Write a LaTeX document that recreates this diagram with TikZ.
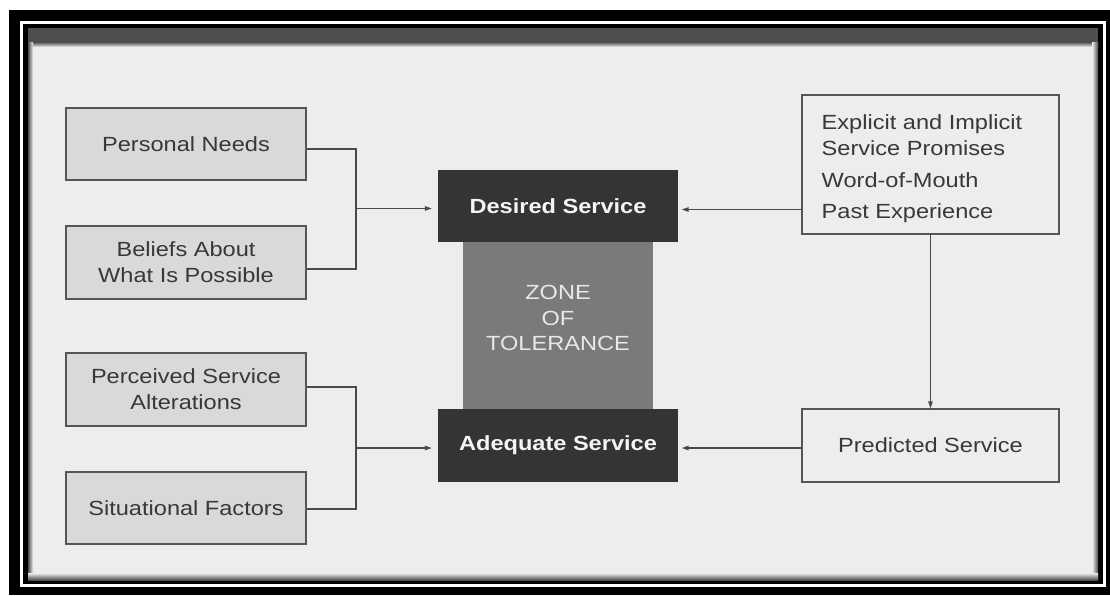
\documentclass[tikz,border=0pt]{standalone}
\usepackage{fontspec}
\newfontfamily\dfont[FakeStretch=1.15]{Liberation Sans}
\usetikzlibrary{arrows.meta}
\definecolor{bggray}{HTML}{EDEDED}
\definecolor{stripc}{HTML}{4E4E4E}
\definecolor{lboxfill}{HTML}{D9D9D9}
\definecolor{boxline}{HTML}{555555}
\definecolor{ltext}{HTML}{383838}
\definecolor{darkbox}{HTML}{343434}
\definecolor{zonefill}{HTML}{7A7A7A}
\definecolor{connc}{HTML}{4A4A4A}
\definecolor{wtext}{HTML}{F4F4F4}
\definecolor{ztext}{HTML}{E8E8E8}
\begin{document}
\begin{tikzpicture}[x=1pt,y=-1pt,
  txt/.style={font=\dfont\fontsize{20.5}{25.7}\selectfont, align=center},
  lbox/.style={txt, draw=boxline, fill=lboxfill, line width=1.2pt, minimum width=240pt, inner sep=0pt, text=ltext},
  rbox/.style={txt, draw=boxline, fill=bggray, line width=1.2pt, minimum width=257pt, inner sep=0pt, text=ltext},
  dbox/.style={txt, fill=darkbox, minimum width=240pt, minimum height=72pt, inner sep=0pt, text=wtext, font=\dfont\bfseries\fontsize{20.5}{25.7}\selectfont},
  conn/.style={draw=connc, line width=1.2pt},
  arr/.style={conn, -{Triangle[length=7pt,width=4.5pt]}}]
\useasboundingbox (0,0) rectangle (1110,595);
% frame
\fill[white] (0,0) rectangle (1110,595);
\fill[black] (9,10) rectangle (1110,595);
\fill[white] (20,21) rectangle (1106,587);
\fill[black] (23,24) rectangle (1103,584);
\fill[bggray] (28,28) rectangle (1098,580);
\fill[stripc] (28,28) rectangle (1098,42);
\shade[top color=stripc, bottom color=bggray] (28,42) rectangle (1098,47);
\shade[left color=stripc, right color=bggray] (28,42) rectangle (33,580);
\shade[left color=bggray, right color=stripc] (1092,42) rectangle (1098,580);
\shade[top color=bggray, bottom color=stripc] (28,573) rectangle (1098,580);
% left boxes
\node[lbox, minimum height=72pt] (pn) at (186,144) {Personal Needs};
\node[lbox, minimum height=73pt] (bel) at (186,262.5) {Beliefs About\\What Is Possible};
\node[lbox, minimum height=73pt] (psa) at (186,389.5) {Perceived Service\\Alterations};
\node[lbox, minimum height=72pt] (sf) at (186,508) {Situational Factors};
% centre
\node[fill=zonefill, minimum width=190pt, minimum height=167pt, inner sep=0pt] (zone) at (558,325.5) {};
\node[txt, text=ztext, inner sep=0pt] (zonetxt) at (558,318.2) {ZONE\\OF\\TOLERANCE};
\node[dbox] (ds) at (558,206) {Desired Service};
\node[dbox, minimum height=73pt] (as) at (558,445.5) {Adequate Service};
% right boxes
\node[rbox, minimum height=139pt] (ex) at (930.5,164.5) {};
\node[txt, align=left, anchor=north west, inner sep=0pt, text=ltext] (extxt) at (821.5,114.3)
  {Explicit and Implicit\\Service Promises\\[6.3pt]Word-of-Mouth\\[6pt]Past Experience};
\node[rbox, minimum height=73pt] (pr) at (930.5,445.5) {Predicted Service};
% connectors left
\coordinate (j1) at (356,208.5);
\coordinate (j2) at (356,448);
\draw[conn] ([yshift=-5pt]pn.east) -| (j1) |- ([yshift=-6.5pt]bel.east);
\draw[arr, shorten >=6pt] (j1) -- (j1 -| ds.west);
\draw[conn] ([yshift=2.5pt]psa.east) -| (j2) |- ([yshift=-1pt]sf.east);
\draw[arr, shorten >=6pt] (j2) -- (j2 -| as.west);
% connectors right
\coordinate (dsr) at ([yshift=-3.5pt]ds.east);
\coordinate (asr) at ([yshift=-2.5pt]as.east);
\draw[arr, shorten >=3.5pt] (dsr -| ex.west) -- (dsr);
\draw[arr, shorten >=3.5pt] (asr -| pr.west) -- (asr);
\draw[arr] (ex.south) -- (pr.north);
\end{tikzpicture}
\end{document}
